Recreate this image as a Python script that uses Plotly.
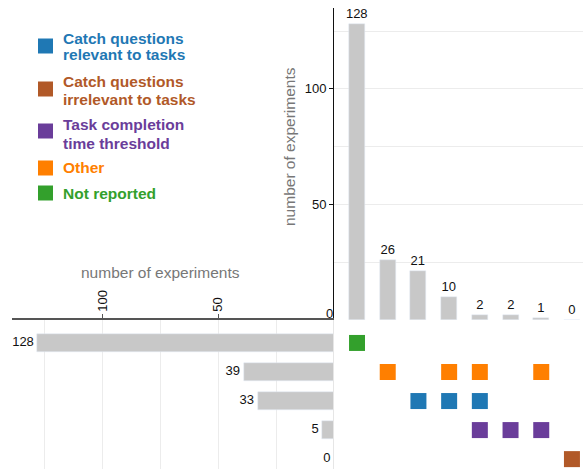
import plotly.graph_objects as go

# ---------------- data ----------------
set_names = ["Not reported", "Other", "Catch questions relevant to tasks",
             "Task completion time threshold", "Catch questions irrelevant to tasks"]
set_colors = ["#33a02c", "#ff7f00", "#1f78b4", "#6a3d9a", "#b15928"]
set_sizes = [128, 39, 33, 5, 0]

intersection_counts = [128, 26, 21, 10, 2, 2, 1, 0]
intersection_members = [
    ["Not reported"],
    ["Other"],
    ["Catch questions relevant to tasks"],
    ["Other", "Catch questions relevant to tasks"],
    ["Other", "Catch questions relevant to tasks", "Task completion time threshold"],
    ["Task completion time threshold"],
    ["Other", "Task completion time threshold"],
    ["Catch questions irrelevant to tasks"],
]

legend_order = ["Catch questions relevant to tasks", "Catch questions irrelevant to tasks",
                "Task completion time threshold", "Other", "Not reported"]
legend_lines = [["Catch questions", "relevant to tasks"],
                ["Catch questions", "irrelevant to tasks"],
                ["Task completion", "time threshold"],
                ["Other"],
                ["Not reported"]]

# ---------------- figure ----------------
W, H = 583, 469
FONT = "Liberation Sans, Arial, Helvetica, sans-serif"
BAR = "#c8c8c8"
GRID = "#ececec"

def px(x):
    return x / W

def py(y):
    return 1 - y / H

fig = go.Figure()

cols = list(range(len(intersection_counts)))
rows = list(range(len(set_names)))

# top intersection bars
fig.add_trace(go.Bar(
    x=cols, y=intersection_counts, marker_color=BAR, width=0.52,
    text=[str(v) for v in intersection_counts], textposition="outside",
    constraintext="none",
    textfont=dict(size=13, color="#111", family=FONT), cliponaxis=False,
    xaxis="x", yaxis="y", showlegend=False, hoverinfo="skip"))

# left set-size bars
fig.add_trace(go.Bar(
    x=set_sizes, y=rows, orientation="h", marker_color=BAR, width=0.6,
    xaxis="x2", yaxis="y2", showlegend=False, hoverinfo="skip"))
fig.add_trace(go.Scatter(
    x=set_sizes, y=rows, mode="text", text=[str(v) + "\u00a0" for v in set_sizes],
    textposition="middle left", cliponaxis=False,
    textfont=dict(size=13, color="#111", family=FONT),
    xaxis="x2", yaxis="y2", showlegend=False, hoverinfo="skip"))

# matrix
mx, my, mc = [], [], []
for ci, members in enumerate(intersection_members):
    for m in members:
        ri = set_names.index(m)
        mx.append(ci)
        my.append(ri)
        mc.append(set_colors[ri])
fig.add_trace(go.Scatter(
    x=mx, y=my, mode="markers",
    marker=dict(symbol="square", size=16, color=mc, line=dict(width=0)),
    xaxis="x3", yaxis="y3", showlegend=False, hoverinfo="skip"))

x_dom = [px(334), 1]
y_top_dom = [py(320), py(8)]
y_bot_dom = [0, py(320)]
col_range = [-0.75, 7.36]
row_range = [4.34, -0.79]

fig.update_layout(
    width=W, height=H,
    margin=dict(l=0, r=0, t=0, b=0, autoexpand=False),
    paper_bgcolor="white", plot_bgcolor="white",
    font=dict(family=FONT, size=13, color="#111"),
    bargap=0,
    xaxis=dict(domain=x_dom, range=col_range, anchor="y", showticklabels=False,
               showgrid=False, zeroline=False, showline=False, ticks="",
               automargin=False),
    yaxis=dict(domain=y_top_dom, range=[0, 135], anchor="x", showline=True,
               linecolor="#111", linewidth=1, ticks="outside", ticklen=4,
               tickcolor="#111", tickvals=[50, 100], showgrid=True,
               gridcolor=GRID, zeroline=False, automargin=False,
               minor=dict(dtick=25, showgrid=True, gridcolor=GRID, ticks=""),
               tickfont=dict(size=13, color="#111")),
    xaxis2=dict(domain=[px(12), px(334)], range=[139, 0], anchor="y2", side="top",
                showline=True, linecolor="#555", linewidth=1.5, ticks="outside",
                ticklen=4, tickcolor="#555", tickangle=-90, tickvals=[50, 100],
                showgrid=True, gridcolor=GRID, zeroline=False, automargin=False,
                minor=dict(dtick=25, showgrid=True, gridcolor=GRID, ticks=""),
                tickfont=dict(size=13, color="#111")),
    yaxis2=dict(domain=y_bot_dom, range=row_range, anchor="x2", showticklabels=False,
                showgrid=False, zeroline=False, showline=False, ticks="",
                automargin=False),
    xaxis3=dict(domain=x_dom, range=col_range, anchor="y3", showticklabels=False,
                showgrid=False, zeroline=False, showline=False, ticks="",
                automargin=False),
    yaxis3=dict(domain=y_bot_dom, range=row_range, anchor="x3", showticklabels=False,
                showgrid=False, zeroline=False, showline=True, linecolor="#e6e6e6",
                linewidth=1, ticks="", automargin=False),
)

# shared zero label at the corner of the two count axes
fig.add_annotation(x=px(329), y=py(313), xref="paper", yref="paper",
                   text="0", showarrow=False,
                   font=dict(size=13, color="#111", family=FONT),
                   xanchor="center", yanchor="middle")

# axis titles
fig.add_annotation(x=px(160), y=py(272), xref="paper", yref="paper",
                   text="number of experiments", showarrow=False,
                   font=dict(size=15.5, color="#777", family=FONT),
                   xanchor="center", yanchor="middle")
fig.add_annotation(x=px(289), y=py(147), xref="paper", yref="paper",
                   text="number of experiments", showarrow=False, textangle=-90,
                   font=dict(size=15.5, color="#777", family=FONT),
                   xanchor="center", yanchor="middle")

# legend
sq_y = [46, 89, 131, 168, 193]
line_y = [[38, 55], [81, 99], [125, 143], [168], [193]]
for name, lines, sy, ly in zip(legend_order, legend_lines, sq_y, line_y):
    col = set_colors[set_names.index(name)]
    fig.add_shape(type="rect", xref="paper", yref="paper",
                  x0=px(38), x1=px(53), y0=py(sy - 7.5), y1=py(sy + 7.5),
                  fillcolor=col, line=dict(width=0))
    for txt, yy in zip(lines, ly):
        fig.add_annotation(x=px(61), y=py(yy), xref="paper", yref="paper",
                           text="<b>" + txt + "</b>", showarrow=False, align="left",
                           font=dict(size=15.5, color=col, family=FONT),
                           xanchor="left", yanchor="middle")

fig.write_html("out.html", config={"displayModeBar": False},
               post_script="document.body.style.margin='0';document.body.style.padding='0';")
